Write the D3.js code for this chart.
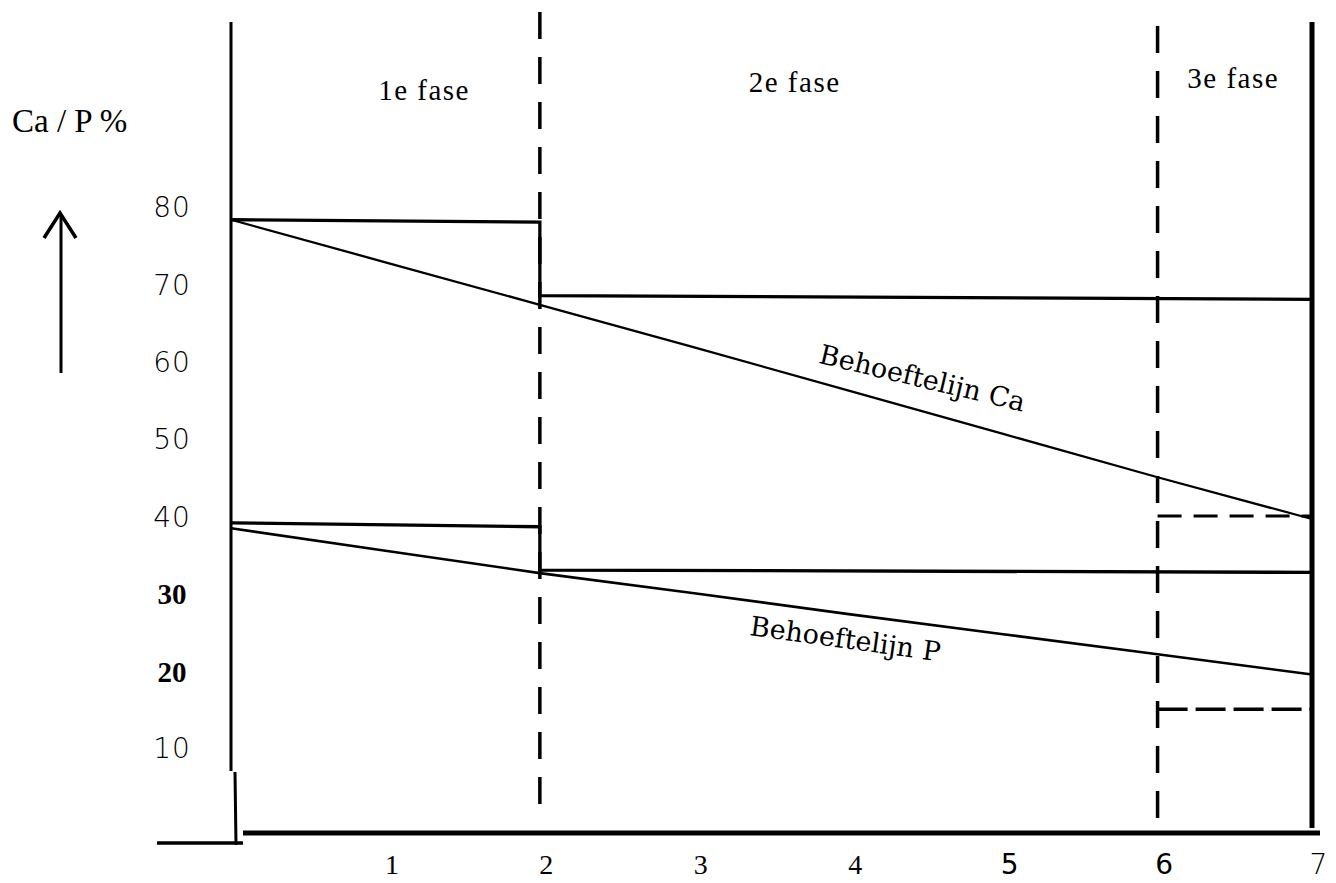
<!DOCTYPE html>
<html>
<head>
<meta charset="utf-8">
<script src="https://cdn.jsdelivr.net/npm/d3@7/dist/d3.min.js"></script>
<style>
  html, body { margin: 0; padding: 0; background: #fff; }
  svg { display: block; }
</style>
</head>
<body>
<svg id="chart" width="1336" height="883"></svg>
<script>
// ---------------- data ----------------
const xValues      = [0, 1, 2, 3, 4, 5, 6, 7];              // weeks
const xTickLabels  = ["1", "2", "3", "4", "5", "6", "7"];
const xTickValues  = [1, 2, 3, 4, 5, 6, 7];
const yTickValues  = [80, 70, 60, 50, 40, 30, 20, 10];
const yTickLabels  = ["80", "70", "60", "50", "40", "30", "20", "10"];

// requirement lines (Behoeftelijn)
const caNeed = [78.3, 72.8, 67.3, 61.8, 56.2, 50.6, 45.0, 39.6];
const pNeed  = [38.4, 35.5, 32.6, 30.0, 27.3, 24.7, 22.1, 19.5];

// supply step lines
const supplyX  = [0, 2, 2, 7];
const caSupply = [78.3, 78.0, 68.5, 68.0];
const pSupply  = [39.1, 38.6, 33.0, 32.7];

// 3rd phase (dashed) supply
const phase3X  = [6, 7];
const caPhase3 = [40.0, 40.0];
const pPhase3  = [15.0, 15.0];

// phases
const phaseBounds = [2, 6];
const phaseLabels = ["1e fase", "2e fase", "3e fase"];
const lineLabels  = ["Behoeftelijn Ca", "Behoeftelijn P"];
const yTitle      = "Ca / P %";

// ---------------- layout ----------------
const svg = d3.select("#chart");
const x = d3.scaleLinear().domain([0, 7]).range([231, 1312]);
const y = d3.scaleLinear().domain([10, 80]).range([747.9, 206.6]);

const serif = "'DejaVu Serif', serif";
const tnr   = "'Liberation Serif', 'Times New Roman', serif";
const sans  = "'DejaVu Sans', sans-serif";

const line = d3.line().x(d => x(d[0])).y(d => y(d[1]));
const zip = (xs, ys) => xs.map((v, i) => [v, ys[i]]);

// frame lines
svg.append("line").attr("x1", x(0)).attr("x2", x(0)).attr("y1", 22).attr("y2", 771)
  .attr("stroke", "#000").attr("stroke-width", 3);
svg.append("line").attr("x1", x(0) + 4).attr("x2", x(0) + 5).attr("y1", 772).attr("y2", 845)
  .attr("stroke", "#000").attr("stroke-width", 3);
svg.append("line").attr("x1", 157).attr("x2", x(0) + 12).attr("y1", 843).attr("y2", 843)
  .attr("stroke", "#000").attr("stroke-width", 3.5);
svg.append("line").attr("x1", x(0) + 12).attr("x2", x(7) + 8).attr("y1", 833).attr("y2", 833)
  .attr("stroke", "#000").attr("stroke-width", 5);
svg.append("line").attr("x1", x(7)).attr("x2", x(7)).attr("y1", 22).attr("y2", 828)
  .attr("stroke", "#000").attr("stroke-width", 5);

// phase boundaries (dashed)
svg.selectAll(".phase").data(phaseBounds).join("line")
  .attr("class", "phase")
  .attr("x1", d => x(d)).attr("x2", d => x(d))
  .attr("y1", (d, i) => i === 0 ? 12 : 26).attr("y2", 822)
  .attr("stroke", "#000").attr("stroke-width", 3.5)
  .attr("stroke-dasharray", "27,18");

// supply step lines
svg.append("path").attr("d", line(zip(supplyX, caSupply)))
  .attr("fill", "none").attr("stroke", "#000").attr("stroke-width", 3.3);
svg.append("path").attr("d", line(zip(supplyX, pSupply)))
  .attr("fill", "none").attr("stroke", "#000").attr("stroke-width", 3.3);

// requirement lines
svg.append("path").attr("d", line(zip(xValues, caNeed)))
  .attr("fill", "none").attr("stroke", "#000").attr("stroke-width", 2.3);
svg.append("path").attr("d", line(zip(xValues, pNeed)))
  .attr("fill", "none").attr("stroke", "#000").attr("stroke-width", 2.6);

// 3rd phase dashed lines
svg.append("path").attr("d", line(zip(phase3X, caPhase3)))
  .attr("fill", "none").attr("stroke", "#000").attr("stroke-width", 3)
  .attr("stroke-dasharray", "24,12");
svg.append("path").attr("d", line(zip(phase3X, pPhase3)))
  .attr("fill", "none").attr("stroke", "#000").attr("stroke-width", 3.3)
  .attr("stroke-dasharray", "30,8");

// phase labels
const phaseLabelPos = [[1.25, 100], [3.65, 92], [6.49, 88]];
svg.selectAll(".plabel").data(phaseLabels).join("text")
  .attr("class", "plabel")
  .attr("x", (d, i) => x(phaseLabelPos[i][0]))
  .attr("y", (d, i) => phaseLabelPos[i][1])
  .attr("text-anchor", "middle")
  .attr("font-family", tnr).attr("font-size", 29).attr("letter-spacing", 1.5)
  .text(d => d);

// line labels
const lineLabelPos = [
  { xv: 3.80, yv: 59.8, rot: 13.4 },
  { xv: 3.355, yv: 24.6, rot: 7.9 }
];
svg.selectAll(".llabel").data(lineLabels).join("text")
  .attr("class", "llabel")
  .attr("transform", (d, i) => `translate(${x(lineLabelPos[i].xv)},${y(lineLabelPos[i].yv)}) rotate(${lineLabelPos[i].rot})`)
  .attr("font-family", serif).attr("font-size", 27)
  .text(d => d);

// y title + arrow
svg.append("text").attr("x", 12).attr("y", 132)
  .attr("font-family", tnr).attr("font-size", 33)
  .text(yTitle);
svg.append("path").attr("d", "M61,373 L61,216")
  .attr("stroke", "#000").attr("stroke-width", 3).attr("fill", "none");
svg.append("path").attr("d", "M44,238 L60,213 L76,238")
  .attr("stroke", "#000").attr("stroke-width", 3.5).attr("fill", "none")
  .attr("stroke-linejoin", "miter");

// y axis labels
const boldY = new Set([30, 20]);
const yAxis = d3.axisLeft(y).tickValues(yTickValues)
  .tickFormat((d, i) => yTickLabels[i]).tickSize(0);
const gy = svg.append("g").attr("transform", "translate(172,0)").call(yAxis);
gy.select(".domain").remove();
gy.selectAll("text")
  .attr("x", 0).attr("dy", "0.36em")
  .attr("text-anchor", "middle")
  .attr("fill", "#000")
  .attr("font-family", d => boldY.has(d) ? tnr : sans)
  .attr("font-weight", d => boldY.has(d) ? "bold" : 200)
  .attr("font-size", d => boldY.has(d) ? 29 : 28)
  .attr("letter-spacing", d => boldY.has(d) ? 0 : 1);

// x axis labels
const xAxis = d3.axisBottom(x).tickValues(xTickValues)
  .tickFormat((d, i) => xTickLabels[i]).tickSize(0);
const gx = svg.append("g").attr("transform", "translate(6,874)").call(xAxis);
gx.select(".domain").remove();
gx.selectAll("text")
  .attr("y", 0).attr("dy", 0)
  .attr("fill", "#000")
  .attr("font-family", d => d <= 4 ? tnr : sans)
  .attr("font-weight", d => d === 7 ? 200 : "normal")
  .attr("font-size", 28);
</script>
</body>
</html>
